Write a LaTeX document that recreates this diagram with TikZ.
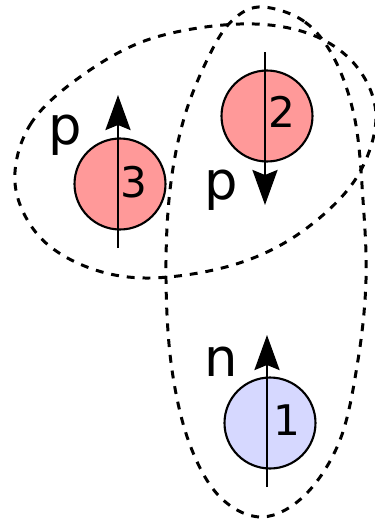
\documentclass[tikz,border=0pt]{standalone}
\usepackage{fontspec}
\setmainfont{DejaVu Sans}
\usetikzlibrary{arrows.meta}

\definecolor{protonred}{HTML}{FF9999}
\definecolor{neutronblue}{HTML}{D6D8FF}

\tikzset{
  nucleon/.style={circle, draw=black, line width=1.2pt, minimum size=1.82cm, inner sep=0pt},
  spin/.style={line width=1.6pt, -{Stealth[length=0.7cm, width=0.5cm, inset=0.1cm]}},
  pair/.style={line width=1.7pt, dash pattern=on 4.5pt off 4.5pt},
  tag/.style={font=\fontsize{30}{36}\selectfont, inner sep=0pt},
  num/.style={font=\fontsize{24}{28}\selectfont, inner sep=0pt}
}

\begin{document}
\begin{tikzpicture}[x=0.02cm, y=-0.02cm]
        \useasboundingbox (0,0) rectangle (375,521);
        \draw[pair] plot[smooth cycle, tension=0.6] coordinates {(15,183) (30,125) (80,77) (150,39) (240,24) (310,34) (357,67) (376,118) (355,180) (300,233) (233,265) (150,278) (87,267) (38,235)};
        \draw[pair] plot[smooth cycle, tension=0.6] coordinates {(263,7) (305,22) (335,60) (355,120) (363,200) (366,280) (358,360) (340,440) (305,495) (262,517) (220,497) (190,445) (172,370) (166,280) (170,190) (185,115) (212,50) (235,18)};
        \node[nucleon, fill=protonred] (n3) at (120,184) {};
        \node[nucleon, fill=protonred] (n2) at (267,116) {};
        \node[nucleon, fill=neutronblue] (n1) at (270,423) {};
        \coordinate (s3a) at (118,248);
        \coordinate (s3b) at (118,95);
        \coordinate (s2a) at (265,52);
        \coordinate (s2b) at (265,205);
        \coordinate (s1a) at (267,487);
        \coordinate (s1b) at (267,335);
        \draw[spin] (s3a) -- (s3b);
        \draw[spin] (s2a) -- (s2b);
        \draw[spin] (s1a) -- (s1b);
        \node[num] (d3) at (134,182) {3};
        \node[num] (d2) at (282,112) {2};
        \node[num] (d1) at (287,420) {1};
        \node[tag] (l3) at (65,135) {p};
        \node[tag] (l2) at (221,190) {p};
        \node[tag] (l1) at (221,362) {n};
\end{tikzpicture}
\end{document}
